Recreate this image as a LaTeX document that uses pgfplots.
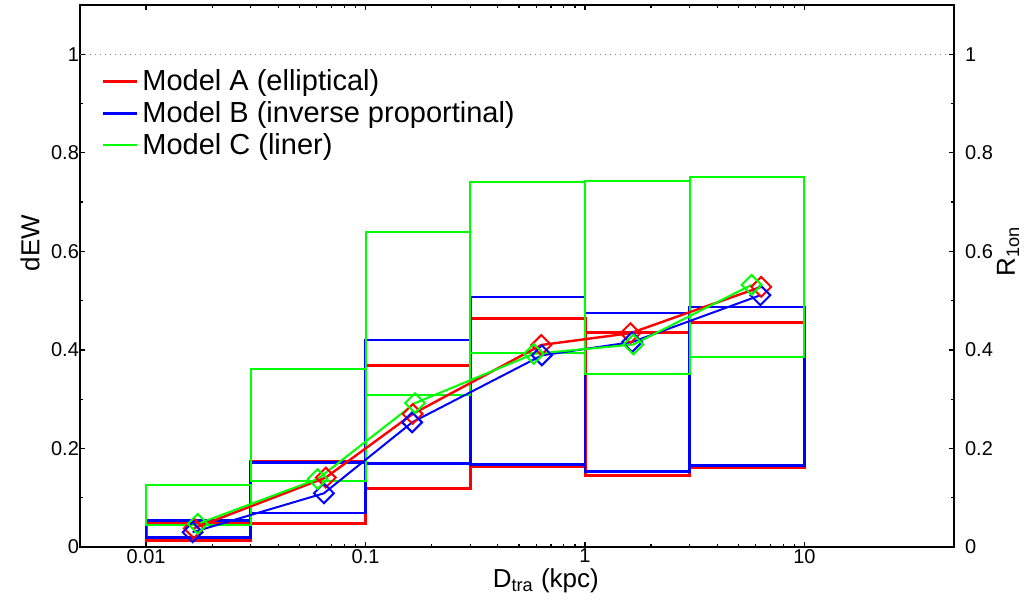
\documentclass[border=0pt]{standalone}
\usepackage{pgfplots}
\pgfplotsset{compat=1.18}
\usepackage{fontspec}
\setmainfont{Liberation Sans}

% one open box per distance bin: colour/style, x from, x to, low, high
\newcommand{\binbox}[5]{%
  \addplot[#1, forget plot, line join=miter] coordinates {(#2,#4) (#3,#4) (#3,#5) (#2,#5)} -- cycle;}

\pgfplotsset{
  common/.style={
    at={(0,0)}, anchor=south west,
    scale only axis, width=437pt, height=271pt,
    xmin=0.005, xmax=48,
    ymin=0, ymax=1.1,
    ytick={0,0.2,0.4,0.6,0.8,1},
    yticklabels={0,0.2,0.4,0.6,0.8,1},
    minor ytick={0.1,0.3,0.5,0.7,0.9},
    major tick length=2.5pt, minor tick length=1.5pt,
    tick style={black, line width=0.6pt},
    axis line style={line width=0.8pt},
    tick label style={font=\fontsize{10}{12}\selectfont},
    /pgf/number format/assume math mode=true,
    clip=false,
  },
  modelA/.style={red, line width=1.5pt},
  modelB/.style={blue, line width=1.3pt},
  modelC/.style={green, line width=1pt},
  meanmark/.style={mark=square, mark size=3.5pt,
    mark options={rotate=45, line width=1pt}},
}

\begin{document}
\begin{tikzpicture}
\useasboundingbox (-40pt,-29.5pt) rectangle (478pt,273.5pt);
\begin{semilogxaxis}[common,
  xtick={0.01,0.1,1,10}, xticklabels={0.01,0.1,1,10},
  xticklabel style={yshift=2.5pt},
  yticklabel style={xshift=3pt},
  xlabel={D\textsubscript{tra} (kpc)},
  ylabel={dEW},
  every axis x label/.style={at={(axis description cs:0.533,-0.063)}, anchor=center,
    font=\fontsize{13}{15}\selectfont},
  every axis y label/.style={at={(axis description cs:-0.057,0.561)}, anchor=center, rotate=90,
    font=\fontsize{13}{15}\selectfont},
  legend style={at={(axis description cs:0.017,0.897)}, anchor=north west,
    draw=none, fill=none, font=\fontsize{14.5}{16}\selectfont,
    legend cell align=left},
]
\addlegendimage{red, line width=1.5pt}
\addlegendentry{Model A (elliptical)}
\addlegendimage{blue, line width=1.3pt}
\addlegendentry{Model B (inverse proportinal)}
\addlegendimage{green, line width=1pt}
\addlegendentry{Model C (liner)}

% reference level
\addplot[gray, dotted, line width=0.5pt, forget plot] coordinates {(0.005,1) (48,1)};

% Model A
\binbox{modelA}{0.01}{0.03}{0.014}{0.050}
\binbox{modelA}{0.03}{0.1}{0.047}{0.174}
\binbox{modelA}{0.1}{0.3}{0.119}{0.368}
\binbox{modelA}{0.3}{1}{0.164}{0.464}
\binbox{modelA}{1}{3}{0.146}{0.436}
\binbox{modelA}{3}{10}{0.161}{0.455}

% Model B
\binbox{modelB}{0.01}{0.03}{0.019}{0.054}
\binbox{modelB}{0.03}{0.1}{0.069}{0.172}
\binbox{modelB}{0.1}{0.3}{0.170}{0.420}
\binbox{modelB}{0.3}{1}{0.167}{0.507}
\binbox{modelB}{1}{3}{0.153}{0.475}
\binbox{modelB}{3}{10}{0.166}{0.487}

% Model C
\binbox{modelC}{0.01}{0.03}{0.045}{0.125}
\binbox{modelC}{0.03}{0.1}{0.133}{0.361}
\binbox{modelC}{0.1}{0.3}{0.309}{0.640}
\binbox{modelC}{0.3}{1}{0.393}{0.741}
\binbox{modelC}{1}{3}{0.352}{0.743}
\binbox{modelC}{3}{10}{0.385}{0.751}

% bin means
\addplot[red, line width=1.2pt, meanmark, forget plot] coordinates {
  (0.0165,0.038) (0.0659,0.141) (0.164,0.270) (0.632,0.410) (1.61,0.434) (6.35,0.528)};
\addplot[blue, line width=1pt, meanmark, forget plot] coordinates {
  (0.0163,0.030) (0.0646,0.109) (0.163,0.253) (0.636,0.389) (1.64,0.416) (6.3,0.511)};
\addplot[green, line width=1pt, meanmark, forget plot] coordinates {
  (0.0172,0.047) (0.0605,0.138) (0.168,0.292) (0.584,0.392) (1.66,0.411) (5.74,0.532)};
\end{semilogxaxis}

\begin{semilogxaxis}[common,
  axis x line=none, axis y line*=right,
  yticklabel style={xshift=2pt},
  ylabel={R\textsubscript{1on}},
  every axis y label/.style={at={(axis description cs:1.062,0.546)}, anchor=center, rotate=90,
    font=\fontsize{13}{15}\selectfont},
]
\end{semilogxaxis}
\end{tikzpicture}
\end{document}
